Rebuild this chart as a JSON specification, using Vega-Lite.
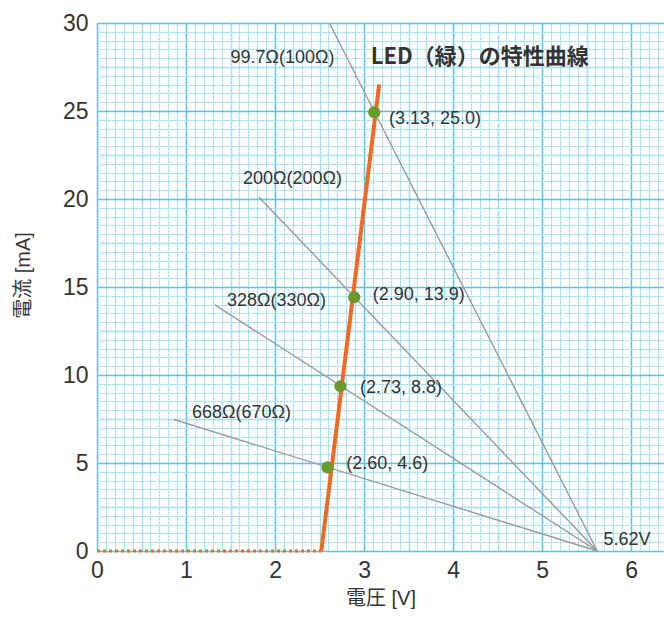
{
  "$schema": "https://vega.github.io/schema/vega-lite/v6.json",
  "autosize": {"type": "none"},
  "padding": {"left": 97, "top": 23, "right": 0, "bottom": 68},
  "width": 567,
  "height": 528,
  "background": "white",
  "config": {
    "view": {"stroke": null},
    "font": "Noto Sans CJK JP"
  },
  "datasets": {
    "loadlines": [
      {"R": "99.7", "V": 2.61, "I": 30},
      {"R": "99.7", "V": 5.62, "I": 0},
      {"R": "200", "V": 1.82, "I": 20.1},
      {"R": "200", "V": 5.62, "I": 0},
      {"R": "328", "V": 1.32, "I": 14.0},
      {"R": "328", "V": 5.62, "I": 0},
      {"R": "668", "V": 0.865, "I": 7.47},
      {"R": "668", "V": 5.62, "I": 0}
    ],
    "offpart": [
      {"V": 0, "I": 0},
      {"V": 2.52, "I": 0}
    ],
    "ledcurve": [
      {"V": 2.52, "I": 0},
      {"V": 3.17, "I": 26.5}
    ],
    "points": [
      {"V": 3.115, "I": 24.92},
      {"V": 2.89, "I": 14.42},
      {"V": 2.735, "I": 9.36},
      {"V": 2.59, "I": 4.75}
    ],
    "labels": [
      {"V": 1.5, "I": 28.0, "text": "99.7Ω(100Ω)"},
      {"V": 1.64, "I": 21.16, "text": "200Ω(200Ω)"},
      {"V": 1.46, "I": 14.2, "text": "328Ω(330Ω)"},
      {"V": 1.067, "I": 7.83, "text": "668Ω(670Ω)"},
      {"V": 3.28, "I": 24.56, "text": "(3.13, 25.0)"},
      {"V": 3.097, "I": 14.52, "text": "(2.90, 13.9)"},
      {"V": 2.955, "I": 9.26, "text": "(2.73, 8.8)"},
      {"V": 2.8, "I": 4.97, "text": "(2.60, 4.6)"},
      {"V": 5.69, "I": 0.62, "text": "5.62V"}
    ],
    "title": [
      {"V": 3.075, "I": 28.08, "text": "LED（緑）の特性曲線"}
    ]
  },
  "resolve": {"axis": {"x": "independent", "y": "independent"}},
  "layer": [
    {
      "data": {"name": "loadlines"},
      "mark": {"type": "line", "color": "#9a9a9a", "strokeWidth": 1.4},
      "encoding": {
        "x": {
          "field": "V", "type": "quantitative",
          "scale": {"domain": [0, 6.37], "nice": false, "zero": false},
          "axis": {
            "orient": "bottom", "title": null, "labels": false, "ticks": false, "domain": false,
            "grid": true, "gridColor": "#d9f1fb", "gridWidth": 1,
            "values": [0,0.1,0.2,0.3,0.4,0.5,0.6,0.7,0.8,0.9,1,1.1,1.2,1.3,1.4,1.5,1.6,1.7,1.8,1.9,2,2.1,2.2,2.3,2.4,2.5,2.6,2.7,2.8,2.9,3,3.1,3.2,3.3,3.4,3.5,3.6,3.7,3.8,3.9,4,4.1,4.2,4.3,4.4,4.5,4.6,4.7,4.8,4.9,5,5.1,5.2,5.3,5.4,5.5,5.6,5.7,5.8,5.9,6,6.1,6.2,6.3]
          }
        },
        "y": {
          "field": "I", "type": "quantitative",
          "scale": {"domain": [0, 30], "nice": false},
          "axis": {
            "orient": "left", "title": null, "labels": false, "ticks": false, "domain": false,
            "grid": true, "gridColor": "#d9f1fb", "gridWidth": 1,
            "values": [0,0.5,1,1.5,2,2.5,3,3.5,4,4.5,5,5.5,6,6.5,7,7.5,8,8.5,9,9.5,10,10.5,11,11.5,12,12.5,13,13.5,14,14.5,15,15.5,16,16.5,17,17.5,18,18.5,19,19.5,20,20.5,21,21.5,22,22.5,23,23.5,24,24.5,25,25.5,26,26.5,27,27.5,28,28.5,29,29.5,30]
          }
        },
        "detail": {"field": "R", "type": "nominal"}
      }
    },
    {
      "data": {"name": "offpart"},
      "mark": {"type": "line", "color": "#f26a21", "strokeWidth": 3, "strokeDash": [3, 3]},
      "encoding": {
        "x": {
          "field": "V", "type": "quantitative",
          "scale": {"domain": [0, 6.37], "nice": false, "zero": false},
          "axis": {
            "orient": "bottom", "title": null, "labels": false, "ticks": false, "domain": false,
            "grid": true, "gridColor": "#3ec1ef", "gridDash": [1, 2], "gridWidth": 1, "gridOpacity": 0.85,
            "values": [0,0.1,0.2,0.3,0.4,0.5,0.6,0.7,0.8,0.9,1,1.1,1.2,1.3,1.4,1.5,1.6,1.7,1.8,1.9,2,2.1,2.2,2.3,2.4,2.5,2.6,2.7,2.8,2.9,3,3.1,3.2,3.3,3.4,3.5,3.6,3.7,3.8,3.9,4,4.1,4.2,4.3,4.4,4.5,4.6,4.7,4.8,4.9,5,5.1,5.2,5.3,5.4,5.5,5.6,5.7,5.8,5.9,6,6.1,6.2,6.3]
          }
        },
        "y": {
          "field": "I", "type": "quantitative",
          "scale": {"domain": [0, 30], "nice": false},
          "axis": {
            "orient": "left", "title": null, "labels": false, "ticks": false, "domain": false,
            "grid": true, "gridColor": "#3ec1ef", "gridDash": [1, 2], "gridWidth": 1, "gridOpacity": 0.85,
            "values": [0,0.5,1,1.5,2,2.5,3,3.5,4,4.5,5,5.5,6,6.5,7,7.5,8,8.5,9,9.5,10,10.5,11,11.5,12,12.5,13,13.5,14,14.5,15,15.5,16,16.5,17,17.5,18,18.5,19,19.5,20,20.5,21,21.5,22,22.5,23,23.5,24,24.5,25,25.5,26,26.5,27,27.5,28,28.5,29,29.5,30]
          }
        }
      }
    },
    {
      "data": {"name": "ledcurve"},
      "mark": {"type": "line", "color": "#f26a21", "strokeWidth": 4},
      "encoding": {
        "x": {
          "field": "V", "type": "quantitative",
          "scale": {"domain": [0, 6.37], "nice": false, "zero": false},
          "axis": {
            "orient": "bottom", "title": null, "labels": false, "ticks": false, "domain": false,
            "grid": true, "gridColor": "#a3ddf6", "gridWidth": 1.5,
            "values": [0.5,1.5,2.5,3.5,4.5,5.5]
          }
        },
        "y": {
          "field": "I", "type": "quantitative",
          "scale": {"domain": [0, 30], "nice": false},
          "axis": {
            "orient": "left", "title": null, "labels": false, "ticks": false, "domain": false,
            "grid": true, "gridColor": "#a3ddf6", "gridWidth": 1.5,
            "values": [2.5,7.5,12.5,17.5,22.5,27.5]
          }
        }
      }
    },
    {
      "data": {"name": "points"},
      "mark": {"type": "circle", "color": "#6a9a2c", "size": 150, "opacity": 1},
      "encoding": {
        "x": {
          "field": "V", "type": "quantitative",
          "scale": {"domain": [0, 6.37], "nice": false, "zero": false},
          "axis": {
            "orient": "bottom", "title": "電圧 [V]", "ticks": false, "domain": false,
            "grid": true, "gridColor": "#55c5ef", "gridWidth": 1.5,
            "values": [0,1,2,3,4,5,6], "labelFlush": false,
            "labelFontSize": 23, "labelColor": "#333333", "labelPadding": 8, "labelFont": "Liberation Sans",
            "titleFontSize": 20, "titleFontWeight": "normal", "titleColor": "#333333", "titleY": 37, "titleBaseline": "top", "titleFont": "Liberation Sans, Noto Sans CJK JP"
          }
        },
        "y": {
          "field": "I", "type": "quantitative",
          "scale": {"domain": [0, 30], "nice": false},
          "axis": {
            "orient": "left", "title": "電流 [mA]", "ticks": false, "domain": false,
            "grid": true, "gridColor": "#55c5ef", "gridWidth": 1.5,
            "values": [0,5,10,15,20,25,30], "labelFlush": false,
            "labelFontSize": 23, "labelColor": "#333333", "labelPadding": 9, "labelFont": "Liberation Sans",
            "titleFontSize": 20, "titleFontWeight": "normal", "titleColor": "#333333", "titleX": -64, "titleY": 252, "titleBaseline": "bottom", "titleFont": "Liberation Sans, Noto Sans CJK JP"
          }
        }
      }
    },
    {
      "data": {"name": "labels"},
      "mark": {"type": "text", "align": "left", "baseline": "middle", "fontSize": 18, "color": "#333333", "font": "Liberation Sans"},
      "encoding": {
        "x": {"field": "V", "type": "quantitative", "scale": {"domain": [0, 6.37], "nice": false, "zero": false}, "axis": null},
        "y": {"field": "I", "type": "quantitative", "scale": {"domain": [0, 30], "nice": false}, "axis": null},
        "text": {"field": "text", "type": "nominal"}
      }
    },
    {
      "data": {"name": "title"},
      "mark": {"type": "text", "align": "left", "baseline": "middle", "fontSize": 22, "fontWeight": "bold", "color": "#333333", "font": "Noto Sans CJK JP"},
      "encoding": {
        "x": {"field": "V", "type": "quantitative", "scale": {"domain": [0, 6.37], "nice": false, "zero": false}, "axis": null},
        "y": {"field": "I", "type": "quantitative", "scale": {"domain": [0, 30], "nice": false}, "axis": null},
        "text": {"field": "text", "type": "nominal"}
      }
    }
  ]
}
